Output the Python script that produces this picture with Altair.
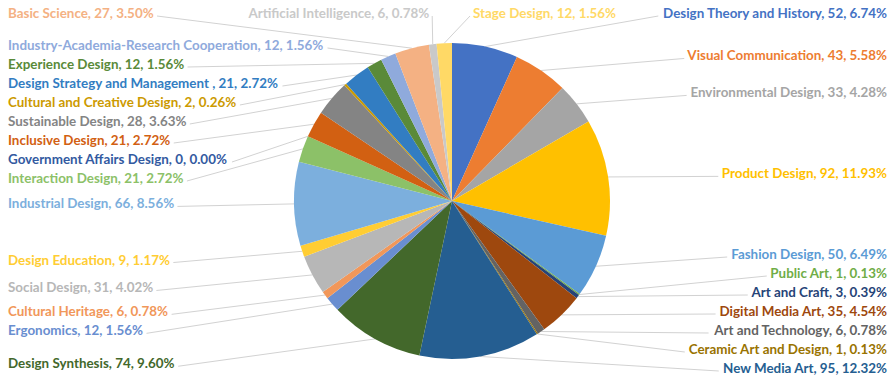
import os
import glob
import struct
import numpy as np
import pandas as pd
import altair as alt

# ---------------- data ----------------
categories = [
    "Design Theory and History", "Visual Communication", "Environmental Design",
    "Product Design", "Fashion Design", "Public Art", "Art and Craft",
    "Digital Media Art", "Art and Technology", "Ceramic Art and Design",
    "New Media Art", "Design Synthesis", "Ergonomics", "Cultural Heritage",
    "Social Design", "Design Education", "Industrial Design", "Interaction Design",
    "Government Affairs Design", "Inclusive Design", "Sustainable Design",
    "Cultural and Creative Design", "Design Strategy and Management ",
    "Experience Design", "Industry-Academia-Research Cooperation", "Basic Science",
    "Artificial Intelligence", "Stage Design",
]
values = [52, 43, 33, 92, 50, 1, 3, 35, 6, 1, 95, 74, 12, 6, 31, 9, 66, 21,
          0, 21, 28, 2, 21, 12, 12, 27, 6, 12]
colors = [
    "#4472C4", "#ED7D31", "#A5A5A5", "#FFC000", "#5B9BD5", "#70AD47",
    "#264478", "#9E480E", "#636363", "#997300", "#255E91", "#43682B",
    "#698ED0", "#F1975A", "#B7B7B7", "#FFCD33", "#7CAFDD", "#8CC168",
    "#335AA1", "#D26012", "#848484", "#CC9A00", "#327DC2", "#5A8A39",
    "#8FAADC", "#F4B183", "#C9C9C9", "#FFD966",
]

# ---------------- layout constants ----------------
W, H = 894, 381
CX, CY, R = 452, 201, 158
R_L_TOP, R_L_BOT = 175, 187
FONT = "Lato"
FS = 13.4
GAP = 19
TOP_Y = 14
COL_TOP, COL_BOT = 46, 369
LEFT_X, RIGHT_X = 8, 887
TOP_INNER_GAP = 21
LINE_COLOR = "#D2D2D2"


# ---------------- text measurement (font file metrics) ----------------
def _parse_font(path):
    d = open(path, "rb").read()
    off = 0
    if d[:4] == b"ttcf":
        off = struct.unpack(">I", d[12:16])[0]
    nt = struct.unpack(">H", d[off + 4:off + 6])[0]
    tabs = {}
    for i in range(nt):
        rec = off + 12 + 16 * i
        tag = d[rec:rec + 4].decode("latin1")
        _, toff, _ = struct.unpack(">III", d[rec + 4:rec + 16])
        tabs[tag] = toff
    upem = struct.unpack(">H", d[tabs["head"] + 18:tabs["head"] + 20])[0]
    nhm = struct.unpack(">H", d[tabs["hhea"] + 34:tabs["hhea"] + 36])[0]
    hm = tabs["hmtx"]
    adv = [struct.unpack(">H", d[hm + 4 * i:hm + 4 * i + 2])[0] for i in range(nhm)]
    cm = tabs["cmap"]
    n = struct.unpack(">H", d[cm + 2:cm + 4])[0]
    sub = None
    for i in range(n):
        pid, eid, so = struct.unpack(">HHI", d[cm + 4 + 8 * i:cm + 12 + 8 * i])
        fmt = struct.unpack(">H", d[cm + so:cm + so + 2])[0]
        if fmt == 4 and pid in (0, 3):
            sub = cm + so
            break
    seg2 = struct.unpack(">H", d[sub + 6:sub + 8])[0]
    seg = seg2 // 2
    ends = struct.unpack(">%dH" % seg, d[sub + 14:sub + 14 + seg2])
    sp = sub + 16 + seg2
    starts = struct.unpack(">%dH" % seg, d[sp:sp + seg2])
    dp = sp + seg2
    deltas = struct.unpack(">%dh" % seg, d[dp:dp + seg2])
    rp = dp + seg2
    ros = struct.unpack(">%dH" % seg, d[rp:rp + seg2])

    def gid(c):
        for i in range(seg):
            if starts[i] <= c <= ends[i]:
                if ros[i] == 0:
                    return (c + deltas[i]) & 0xFFFF
                addr = rp + 2 * i + ros[i] + 2 * (c - starts[i])
                g = struct.unpack(">H", d[addr:addr + 2])[0]
                return (g + deltas[i]) & 0xFFFF if g else 0
        return 0

    def width(s, size):
        tot = 0
        for ch in s:
            g = gid(ord(ch))
            tot += adv[min(g, nhm - 1)]
        return tot / upem * size

    return width


def _find_measure():
    bases = ["/usr/share/fonts", "/usr/local/share/fonts",
             os.path.expanduser("~/.fonts"), os.path.expanduser("~/.local/share/fonts")]
    for nm in ["Lato-Bold.ttf", "Lato-Bold.otf", "Lato Bold.ttf"]:
        for b in bases:
            for f in glob.glob(os.path.join(b, "**", nm), recursive=True):
                try:
                    fn = _parse_font(f)
                    fn("A", 10)
                    return fn
                except Exception:
                    pass
    return lambda s, size: len(s) * 0.55 * size


measure = _find_measure()

# ---------------- derived geometry ----------------
vals = np.array(values, dtype=float)
total = vals.sum()
pct = vals / total * 100
labels = [f"{c}, {v}, {p:.2f}%" for c, v, p in zip(categories, values, pct)]
start = np.cumsum(vals) - vals
mid = (start + vals / 2) / total * 360.0
rad = np.deg2rad(mid)
ex = CX + R * np.sin(rad)
ey = CY - R * np.cos(rad)
off = np.where(mid > 180, mid - 360, mid)
cosv = np.cos(rad)
nat_y = CY - np.where(cosv > 0, R_L_TOP, R_L_BOT) * cosv

n = len(categories)
lab_x = np.zeros(n)
lab_y = np.zeros(n)
align = [""] * n


def spread(idx):
    ys = [nat_y[i] for i in idx]
    for k in range(len(ys)):
        lo = COL_TOP if k == 0 else ys[k - 1] + GAP
        ys[k] = max(ys[k], lo)
    for k in range(len(ys) - 1, -1, -1):
        hi = COL_BOT if k == len(ys) - 1 else ys[k + 1] - GAP
        ys[k] = min(ys[k], hi)
    for i, y in zip(idx, ys):
        lab_y[i] = y


right_idx = sorted([i for i in range(n) if 15 <= off[i]], key=lambda i: off[i])
left_idx = sorted([i for i in range(n) if off[i] <= -15], key=lambda i: -off[i])
top_idx = [i for i in range(n) if abs(off[i]) < 15]
spread(right_idx)
spread(left_idx)
for i in right_idx:
    lab_x[i], align[i] = RIGHT_X, "right"
for i in left_idx:
    lab_x[i], align[i] = LEFT_X, "left"
for i in top_idx:
    lab_y[i] = TOP_Y
    if off[i] <= -10:
        lab_x[i], align[i] = LEFT_X, "left"
    elif off[i] >= 10:
        lab_x[i], align[i] = RIGHT_X, "right"
    elif off[i] < -4:
        lab_x[i], align[i] = CX + 187 * np.sin(rad[i]), "right"
    else:
        lab_x[i], align[i] = CX + TOP_INNER_GAP, "left"

# leader line anchors
lx = np.zeros(n)
for i in range(n):
    w = measure(labels[i], FS)
    if align[i] == "left":
        x0, x1 = lab_x[i], lab_x[i] + w
    else:
        x0, x1 = lab_x[i] - w, lab_x[i]
    lx[i] = x0 - 3 if ex[i] < x0 else x1 + 3
ly = lab_y + 2

lab_df = pd.DataFrame({"category": categories, "label": labels, "x": lab_x,
                       "y": lab_y, "align": align})
line_df = pd.DataFrame({"category": categories, "x1": lx, "y1": ly, "x2": ex, "y2": ey})
pie_df = pd.DataFrame({"category": categories, "value": values, "order": list(range(n))})

xs = alt.Scale(domain=[0, W], nice=False, zero=False)
ys = alt.Scale(domain=[0, H], nice=False, zero=False, reverse=True)
cscale = alt.Scale(domain=categories, range=colors)

lines = alt.Chart(line_df).mark_rule(color=LINE_COLOR, strokeWidth=1).encode(
    x=alt.X("x1:Q", scale=xs, axis=None),
    y=alt.Y("y1:Q", scale=ys, axis=None),
    x2="x2:Q",
    y2="y2:Q",
)

pie = alt.Chart(pie_df).mark_arc(outerRadius=R).encode(
    theta=alt.Theta("value:Q", stack=True),
    color=alt.Color("category:N", scale=cscale, legend=None),
    order=alt.Order("order:Q", sort="ascending"),
    x=alt.XDatum(CX, type="quantitative", scale=xs, axis=None),
    y=alt.YDatum(CY, type="quantitative", scale=ys, axis=None),
)


def text_layer(al):
    return alt.Chart(lab_df[lab_df["align"] == al]).mark_text(
        align=al, baseline="middle", font=FONT, fontSize=FS, fontWeight="bold"
    ).encode(
        x=alt.X("x:Q", scale=xs, axis=None),
        y=alt.Y("y:Q", scale=ys, axis=None),
        text="label:N",
        color=alt.Color("category:N", scale=cscale, legend=None),
    )


chart = alt.layer(lines, pie, text_layer("left"), text_layer("right")).properties(
    width=W, height=H, padding=0, autosize=alt.AutoSizeParams(type="none"),
    background="white",
).configure_view(stroke=None)

chart.save("out.html", embed_options={"renderer": "svg", "actions": False})
